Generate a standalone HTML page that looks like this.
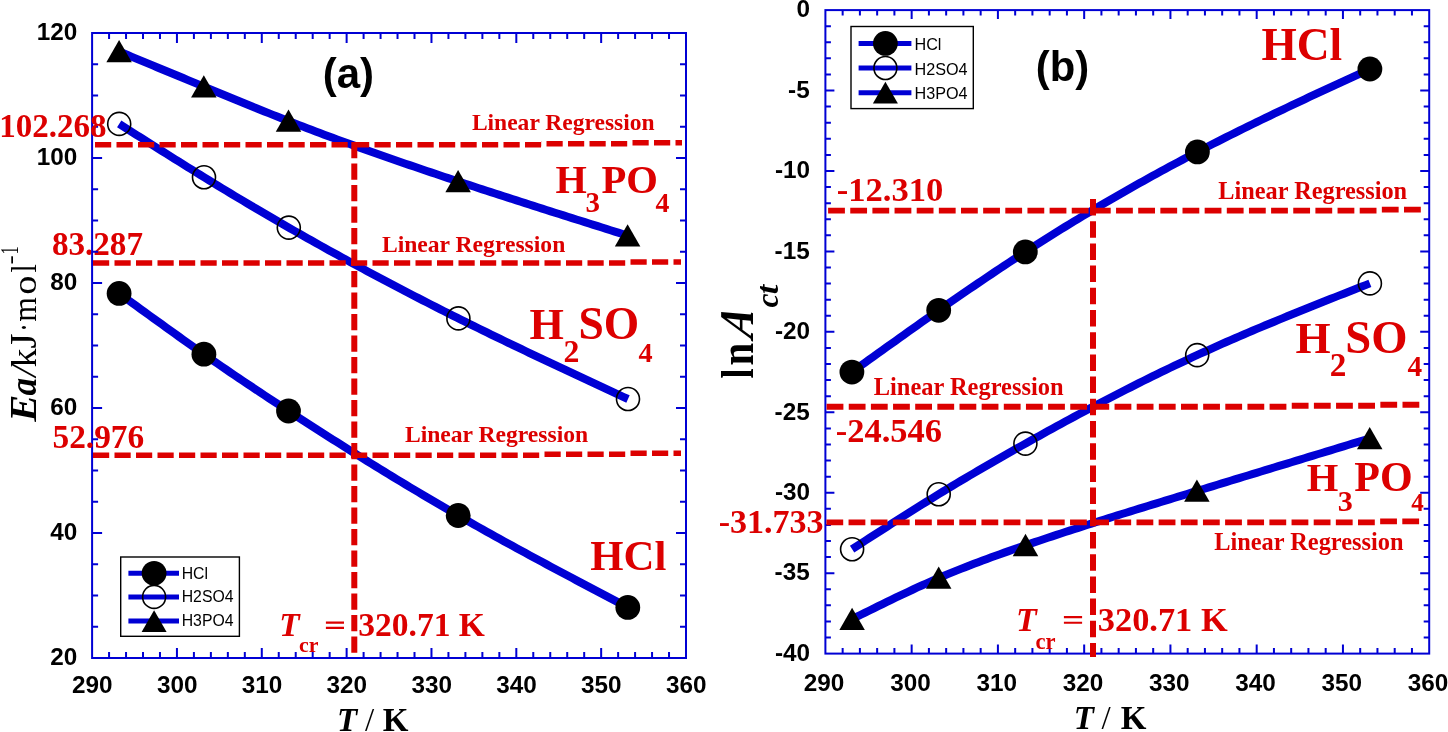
<!DOCTYPE html>
<html><head><meta charset="utf-8"><style>html,body{margin:0;padding:0;background:#fff;overflow:hidden}svg{display:block;will-change:transform}</style></head>
<body>
<svg width="1448" height="732" viewBox="0 0 1448 732">
<rect width="1448" height="732" fill="#fff"/>
<text x="51.9" y="254.6" font-family='"Liberation Serif",serif' font-weight="bold" font-style="normal" font-size="33.13" fill="#dc0000">83.287</text>
<text x="718.65" y="532.9" font-family='"Liberation Serif",serif' font-weight="bold" font-style="normal" font-size="34.06" fill="#dc0000">-31.733</text>
<rect x="92.1" y="33" width="593.9" height="625" fill="none" stroke="#0000d4" stroke-width="2"/>
<path d="M109.07 658v-6M109.07 33v6M126.04 658v-6M126.04 33v6M143.01 658v-6M143.01 33v6M159.97 658v-6M159.97 33v6M176.94 658v-10M176.94 33v10M193.91 658v-6M193.91 33v6M210.88 658v-6M210.88 33v6M227.85 658v-6M227.85 33v6M244.82 658v-6M244.82 33v6M261.79 658v-10M261.79 33v10M278.75 658v-6M278.75 33v6M295.72 658v-6M295.72 33v6M312.69 658v-6M312.69 33v6M329.66 658v-6M329.66 33v6M346.63 658v-10M346.63 33v10M363.6 658v-6M363.6 33v6M380.57 658v-6M380.57 33v6M397.53 658v-6M397.53 33v6M414.5 658v-6M414.5 33v6M431.47 658v-10M431.47 33v10M448.44 658v-6M448.44 33v6M465.41 658v-6M465.41 33v6M482.38 658v-6M482.38 33v6M499.35 658v-6M499.35 33v6M516.31 658v-10M516.31 33v10M533.28 658v-6M533.28 33v6M550.25 658v-6M550.25 33v6M567.22 658v-6M567.22 33v6M584.19 658v-6M584.19 33v6M601.16 658v-10M601.16 33v10M618.13 658v-6M618.13 33v6M635.09 658v-6M635.09 33v6M652.06 658v-6M652.06 33v6M669.03 658v-6M669.03 33v6M92.1 64.25h6M686 64.25h-6M92.1 95.5h6M686 95.5h-6M92.1 126.75h6M686 126.75h-6M92.1 158h10M686 158h-10M92.1 189.25h6M686 189.25h-6M92.1 220.5h6M686 220.5h-6M92.1 251.75h6M686 251.75h-6M92.1 283h10M686 283h-10M92.1 314.25h6M686 314.25h-6M92.1 345.5h6M686 345.5h-6M92.1 376.75h6M686 376.75h-6M92.1 408h10M686 408h-10M92.1 439.25h6M686 439.25h-6M92.1 470.5h6M686 470.5h-6M92.1 501.75h6M686 501.75h-6M92.1 533h10M686 533h-10M92.1 564.25h6M686 564.25h-6M92.1 595.5h6M686 595.5h-6M92.1 626.75h6M686 626.75h-6" stroke="#0000d4" stroke-width="2" fill="none"/>
<text x="71.91" y="693.2" font-family='"Liberation Sans",sans-serif' font-weight="bold" font-style="normal" font-size="24.3" fill="#000">290</text>
<text x="156.89" y="693.2" font-family='"Liberation Sans",sans-serif' font-weight="bold" font-style="normal" font-size="24.3" fill="#000">300</text>
<text x="241.73" y="693.2" font-family='"Liberation Sans",sans-serif' font-weight="bold" font-style="normal" font-size="24.3" fill="#000">310</text>
<text x="326.58" y="693.2" font-family='"Liberation Sans",sans-serif' font-weight="bold" font-style="normal" font-size="24.3" fill="#000">320</text>
<text x="411.42" y="693.2" font-family='"Liberation Sans",sans-serif' font-weight="bold" font-style="normal" font-size="24.3" fill="#000">330</text>
<text x="496.26" y="693.2" font-family='"Liberation Sans",sans-serif' font-weight="bold" font-style="normal" font-size="24.3" fill="#000">340</text>
<text x="581.1" y="693.2" font-family='"Liberation Sans",sans-serif' font-weight="bold" font-style="normal" font-size="24.3" fill="#000">350</text>
<text x="665.95" y="693.2" font-family='"Liberation Sans",sans-serif' font-weight="bold" font-style="normal" font-size="24.3" fill="#000">360</text>
<text x="36.85" y="40.2" font-family='"Liberation Sans",sans-serif' font-weight="bold" font-style="normal" font-size="24.3" fill="#000">120</text>
<text x="36.85" y="165.2" font-family='"Liberation Sans",sans-serif' font-weight="bold" font-style="normal" font-size="24.3" fill="#000">100</text>
<text x="50.37" y="290.2" font-family='"Liberation Sans",sans-serif' font-weight="bold" font-style="normal" font-size="24.3" fill="#000">80</text>
<text x="50.37" y="415.2" font-family='"Liberation Sans",sans-serif' font-weight="bold" font-style="normal" font-size="24.3" fill="#000">60</text>
<text x="50.37" y="540.2" font-family='"Liberation Sans",sans-serif' font-weight="bold" font-style="normal" font-size="24.3" fill="#000">40</text>
<text x="50.37" y="665.2" font-family='"Liberation Sans",sans-serif' font-weight="bold" font-style="normal" font-size="24.3" fill="#000">20</text>
<rect x="825.4" y="10.1" width="603.8" height="643.5" fill="none" stroke="#0000d4" stroke-width="2"/>
<path d="M842.65 653.6v-5.5M842.65 10.1v5.5M859.9 653.6v-5.5M859.9 10.1v5.5M877.15 653.6v-5.5M877.15 10.1v5.5M894.41 653.6v-5.5M894.41 10.1v5.5M911.66 653.6v-9M911.66 10.1v9M928.91 653.6v-5.5M928.91 10.1v5.5M946.16 653.6v-5.5M946.16 10.1v5.5M963.41 653.6v-5.5M963.41 10.1v5.5M980.66 653.6v-5.5M980.66 10.1v5.5M997.91 653.6v-9M997.91 10.1v9M1015.17 653.6v-5.5M1015.17 10.1v5.5M1032.42 653.6v-5.5M1032.42 10.1v5.5M1049.67 653.6v-5.5M1049.67 10.1v5.5M1066.92 653.6v-5.5M1066.92 10.1v5.5M1084.17 653.6v-9M1084.17 10.1v9M1101.42 653.6v-5.5M1101.42 10.1v5.5M1118.67 653.6v-5.5M1118.67 10.1v5.5M1135.93 653.6v-5.5M1135.93 10.1v5.5M1153.18 653.6v-5.5M1153.18 10.1v5.5M1170.43 653.6v-9M1170.43 10.1v9M1187.68 653.6v-5.5M1187.68 10.1v5.5M1204.93 653.6v-5.5M1204.93 10.1v5.5M1222.18 653.6v-5.5M1222.18 10.1v5.5M1239.43 653.6v-5.5M1239.43 10.1v5.5M1256.69 653.6v-9M1256.69 10.1v9M1273.94 653.6v-5.5M1273.94 10.1v5.5M1291.19 653.6v-5.5M1291.19 10.1v5.5M1308.44 653.6v-5.5M1308.44 10.1v5.5M1325.69 653.6v-5.5M1325.69 10.1v5.5M1342.94 653.6v-9M1342.94 10.1v9M1360.19 653.6v-5.5M1360.19 10.1v5.5M1377.45 653.6v-5.5M1377.45 10.1v5.5M1394.7 653.6v-5.5M1394.7 10.1v5.5M1411.95 653.6v-5.5M1411.95 10.1v5.5M825.4 26.19h5.5M1429.2 26.19h-5.5M825.4 42.27h5.5M1429.2 42.27h-5.5M825.4 58.36h5.5M1429.2 58.36h-5.5M825.4 74.45h5.5M1429.2 74.45h-5.5M825.4 90.54h9M1429.2 90.54h-9M825.4 106.62h5.5M1429.2 106.62h-5.5M825.4 122.71h5.5M1429.2 122.71h-5.5M825.4 138.8h5.5M1429.2 138.8h-5.5M825.4 154.89h5.5M1429.2 154.89h-5.5M825.4 170.97h9M1429.2 170.97h-9M825.4 187.06h5.5M1429.2 187.06h-5.5M825.4 203.15h5.5M1429.2 203.15h-5.5M825.4 219.24h5.5M1429.2 219.24h-5.5M825.4 235.32h5.5M1429.2 235.32h-5.5M825.4 251.41h9M1429.2 251.41h-9M825.4 267.5h5.5M1429.2 267.5h-5.5M825.4 283.59h5.5M1429.2 283.59h-5.5M825.4 299.68h5.5M1429.2 299.68h-5.5M825.4 315.76h5.5M1429.2 315.76h-5.5M825.4 331.85h9M1429.2 331.85h-9M825.4 347.94h5.5M1429.2 347.94h-5.5M825.4 364.02h5.5M1429.2 364.02h-5.5M825.4 380.11h5.5M1429.2 380.11h-5.5M825.4 396.2h5.5M1429.2 396.2h-5.5M825.4 412.29h9M1429.2 412.29h-9M825.4 428.38h5.5M1429.2 428.38h-5.5M825.4 444.46h5.5M1429.2 444.46h-5.5M825.4 460.55h5.5M1429.2 460.55h-5.5M825.4 476.64h5.5M1429.2 476.64h-5.5M825.4 492.72h9M1429.2 492.72h-9M825.4 508.81h5.5M1429.2 508.81h-5.5M825.4 524.9h5.5M1429.2 524.9h-5.5M825.4 540.99h5.5M1429.2 540.99h-5.5M825.4 557.07h5.5M1429.2 557.07h-5.5M825.4 573.16h9M1429.2 573.16h-9M825.4 589.25h5.5M1429.2 589.25h-5.5M825.4 605.34h5.5M1429.2 605.34h-5.5M825.4 621.42h5.5M1429.2 621.42h-5.5M825.4 637.51h5.5M1429.2 637.51h-5.5" stroke="#0000d4" stroke-width="2" fill="none"/>
<text x="803.81" y="690.9" font-family='"Liberation Sans",sans-serif' font-weight="bold" font-style="normal" font-size="24.3" fill="#000">290</text>
<text x="890.2" y="690.9" font-family='"Liberation Sans",sans-serif' font-weight="bold" font-style="normal" font-size="24.3" fill="#000">300</text>
<text x="976.46" y="690.9" font-family='"Liberation Sans",sans-serif' font-weight="bold" font-style="normal" font-size="24.3" fill="#000">310</text>
<text x="1062.72" y="690.9" font-family='"Liberation Sans",sans-serif' font-weight="bold" font-style="normal" font-size="24.3" fill="#000">320</text>
<text x="1148.98" y="690.9" font-family='"Liberation Sans",sans-serif' font-weight="bold" font-style="normal" font-size="24.3" fill="#000">330</text>
<text x="1235.23" y="690.9" font-family='"Liberation Sans",sans-serif' font-weight="bold" font-style="normal" font-size="24.3" fill="#000">340</text>
<text x="1321.49" y="690.9" font-family='"Liberation Sans",sans-serif' font-weight="bold" font-style="normal" font-size="24.3" fill="#000">350</text>
<text x="1407.75" y="690.9" font-family='"Liberation Sans",sans-serif' font-weight="bold" font-style="normal" font-size="24.3" fill="#000">360</text>
<text x="796.48" y="17.4" font-family='"Liberation Sans",sans-serif' font-weight="bold" font-style="normal" font-size="24.3" fill="#000">0</text>
<text x="788.07" y="97.84" font-family='"Liberation Sans",sans-serif' font-weight="bold" font-style="normal" font-size="24.3" fill="#000">-5</text>
<text x="774.88" y="178.28" font-family='"Liberation Sans",sans-serif' font-weight="bold" font-style="normal" font-size="24.3" fill="#000">-10</text>
<text x="774.56" y="258.71" font-family='"Liberation Sans",sans-serif' font-weight="bold" font-style="normal" font-size="24.3" fill="#000">-15</text>
<text x="774.88" y="339.15" font-family='"Liberation Sans",sans-serif' font-weight="bold" font-style="normal" font-size="24.3" fill="#000">-20</text>
<text x="774.56" y="419.59" font-family='"Liberation Sans",sans-serif' font-weight="bold" font-style="normal" font-size="24.3" fill="#000">-25</text>
<text x="774.88" y="500.02" font-family='"Liberation Sans",sans-serif' font-weight="bold" font-style="normal" font-size="24.3" fill="#000">-30</text>
<text x="774.56" y="580.46" font-family='"Liberation Sans",sans-serif' font-weight="bold" font-style="normal" font-size="24.3" fill="#000">-35</text>
<text x="774.88" y="660.9" font-family='"Liberation Sans",sans-serif' font-weight="bold" font-style="normal" font-size="24.3" fill="#000">-40</text>
<path d="M119.1 293.4 123.37 296.51 127.65 299.62 131.92 302.72 136.2 305.83 140.47 308.93 144.75 312.03 149.02 315.12 153.3 318.21 157.57 321.3 161.85 324.37 166.12 327.45 170.4 330.51 174.67 333.57 178.95 336.62 183.22 339.65 187.5 342.68 191.77 345.7 196.05 348.71 200.32 351.7 204.6 354.68 208.87 357.65 213.15 360.61 217.42 363.55 221.69 366.49 225.97 369.41 230.24 372.32 234.52 375.21 238.79 378.1 243.07 380.98 247.34 383.84 251.62 386.7 255.89 389.55 260.17 392.39 264.44 395.22 268.72 398.04 272.99 400.85 277.27 403.66 281.54 406.46 285.82 409.25 290.09 412.04 294.37 414.82 298.64 417.59 302.92 420.35 307.19 423.11 311.47 425.87 315.74 428.61 320.02 431.35 324.29 434.08 328.56 436.81 332.84 439.53 337.11 442.24 341.39 444.94 345.66 447.63 349.94 450.32 354.21 453 358.49 455.67 362.76 458.33 367.04 460.99 371.31 463.64 375.59 466.27 379.86 468.91 384.14 471.53 388.41 474.14 392.69 476.75 396.96 479.34 401.24 481.93 405.51 484.51 409.79 487.07 414.06 489.63 418.34 492.18 422.61 494.73 426.88 497.26 431.16 499.78 435.43 502.29 439.71 504.79 443.98 507.28 448.26 509.77 452.53 512.24 456.81 514.7 461.08 517.15 465.36 519.59 469.63 522.03 473.91 524.45 478.18 526.86 482.46 529.26 486.73 531.66 491.01 534.04 495.28 536.42 499.56 538.79 503.83 541.15 508.11 543.5 512.38 545.85 516.66 548.19 520.93 550.52 525.21 552.85 529.48 555.17 533.75 557.48 538.03 559.79 542.3 562.09 546.58 564.39 550.85 566.68 555.13 568.97 559.4 571.26 563.68 573.54 567.95 575.81 572.23 578.08 576.5 580.35 580.78 582.62 585.05 584.88 589.33 587.14 593.6 589.39 597.88 591.65 602.15 593.9 606.43 596.16 610.7 598.41 614.98 600.66 619.25 602.9 623.53 605.15 627.8 607.4" stroke="#0000d4" stroke-width="8" fill="none" stroke-linejoin="round"/>
<path d="M119.2 123.9 123.48 126.62 127.75 129.33 132.03 132.05 136.3 134.76 140.58 137.47 144.85 140.18 149.13 142.89 153.41 145.6 157.68 148.3 161.96 150.99 166.23 153.68 170.51 156.37 174.78 159.05 179.06 161.73 183.33 164.4 187.61 167.06 191.89 169.72 196.16 172.37 200.44 175.01 204.71 177.64 208.99 180.26 213.26 182.87 217.54 185.48 221.82 188.08 226.09 190.66 230.37 193.24 234.64 195.81 238.92 198.37 243.19 200.92 247.47 203.47 251.74 206 256.02 208.53 260.3 211.04 264.57 213.55 268.85 216.05 273.12 218.54 277.4 221.02 281.67 223.5 285.95 225.96 290.23 228.42 294.5 230.86 298.78 233.3 303.05 235.73 307.33 238.15 311.6 240.57 315.88 242.97 320.15 245.37 324.43 247.75 328.71 250.13 332.98 252.5 337.26 254.86 341.53 257.21 345.81 259.56 350.08 261.9 354.36 264.22 358.64 266.54 362.91 268.86 367.19 271.16 371.46 273.45 375.74 275.74 380.01 278.02 384.29 280.29 388.56 282.55 392.84 284.81 397.12 287.06 401.39 289.3 405.67 291.53 409.94 293.75 414.22 295.96 418.49 298.17 422.77 300.37 427.05 302.56 431.32 304.75 435.6 306.92 439.87 309.09 444.15 311.25 448.42 313.41 452.7 315.55 456.97 317.69 461.25 319.82 465.53 321.94 469.8 324.06 474.08 326.17 478.35 328.27 482.63 330.36 486.9 332.45 491.18 334.54 495.46 336.61 499.73 338.68 504.01 340.75 508.28 342.81 512.56 344.86 516.83 346.91 521.11 348.95 525.38 350.99 529.66 353.03 533.94 355.06 538.21 357.08 542.49 359.11 546.76 361.12 551.04 363.14 555.31 365.15 559.59 367.16 563.87 369.16 568.14 371.16 572.42 373.16 576.69 375.16 580.97 377.16 585.24 379.15 589.52 381.14 593.79 383.13 598.07 385.11 602.35 387.1 606.62 389.09 610.9 391.07 615.17 393.05 619.45 395.04 623.72 397.02 628 399" stroke="#0000d4" stroke-width="8" fill="none" stroke-linejoin="round"/>
<path d="M119.1 51.5 123.37 53.27 127.65 55.04 131.92 56.82 136.19 58.59 140.47 60.36 144.74 62.13 149.01 63.9 153.28 65.67 157.56 67.44 161.83 69.21 166.1 70.99 170.38 72.76 174.65 74.53 178.92 76.3 183.2 78.07 187.47 79.84 191.74 81.61 196.02 83.38 200.29 85.15 204.56 86.92 208.84 88.68 213.11 90.45 217.38 92.22 221.65 93.98 225.93 95.75 230.2 97.51 234.47 99.26 238.75 101.01 243.02 102.76 247.29 104.51 251.57 106.25 255.84 107.98 260.11 109.71 264.39 111.43 268.66 113.14 272.93 114.85 277.21 116.55 281.48 118.24 285.75 119.92 290.02 121.6 294.3 123.26 298.57 124.91 302.84 126.56 307.12 128.19 311.39 129.82 315.66 131.44 319.94 133.05 324.21 134.65 328.48 136.24 332.76 137.83 337.03 139.4 341.3 140.97 345.57 142.53 349.85 144.09 354.12 145.63 358.39 147.17 362.67 148.7 366.94 150.23 371.21 151.75 375.49 153.26 379.76 154.76 384.03 156.26 388.31 157.75 392.58 159.24 396.85 160.72 401.13 162.2 405.4 163.67 409.67 165.13 413.94 166.59 418.22 168.04 422.49 169.49 426.76 170.94 431.04 172.38 435.31 173.81 439.58 175.24 443.86 176.67 448.13 178.09 452.4 179.51 456.68 180.93 460.95 182.34 465.22 183.75 469.49 185.15 473.77 186.56 478.04 187.95 482.31 189.35 486.59 190.74 490.86 192.13 495.13 193.52 499.41 194.9 503.68 196.29 507.95 197.66 512.23 199.04 516.5 200.42 520.77 201.79 525.05 203.16 529.32 204.52 533.59 205.89 537.86 207.25 542.14 208.62 546.41 209.98 550.68 211.33 554.96 212.69 559.23 214.05 563.5 215.4 567.78 216.75 572.05 218.1 576.32 219.45 580.6 220.8 584.87 222.15 589.14 223.5 593.42 224.85 597.69 226.19 601.96 227.54 606.23 228.88 610.51 230.23 614.78 231.57 619.05 232.91 623.33 234.26 627.6 235.6" stroke="#0000d4" stroke-width="8" fill="none" stroke-linejoin="round"/>
<path d="M851.9 372.1 856.25 368.97 860.61 365.84 864.96 362.72 869.31 359.59 873.66 356.47 878.02 353.35 882.37 350.23 886.72 347.11 891.08 344 895.43 340.89 899.78 337.79 904.14 334.69 908.49 331.6 912.84 328.51 917.19 325.42 921.55 322.35 925.9 319.28 930.25 316.22 934.61 313.16 938.96 310.12 943.31 307.08 947.66 304.05 952.02 301.04 956.37 298.03 960.72 295.03 965.08 292.04 969.43 289.06 973.78 286.09 978.14 283.14 982.49 280.19 986.84 277.26 991.19 274.34 995.55 271.43 999.9 268.53 1004.25 265.65 1008.61 262.78 1012.96 259.92 1017.31 257.08 1021.66 254.25 1026.02 251.44 1030.37 248.64 1034.72 245.85 1039.08 243.08 1043.43 240.33 1047.78 237.59 1052.14 234.86 1056.49 232.15 1060.84 229.45 1065.19 226.77 1069.55 224.1 1073.9 221.45 1078.25 218.81 1082.61 216.18 1086.96 213.57 1091.31 210.97 1095.66 208.39 1100.02 205.82 1104.37 203.27 1108.72 200.72 1113.08 198.2 1117.43 195.68 1121.78 193.18 1126.14 190.7 1130.49 188.22 1134.84 185.77 1139.19 183.32 1143.55 180.89 1147.9 178.47 1152.25 176.06 1156.61 173.67 1160.96 171.29 1165.31 168.93 1169.66 166.58 1174.02 164.24 1178.37 161.91 1182.72 159.6 1187.08 157.3 1191.43 155.01 1195.78 152.74 1200.14 150.48 1204.49 148.23 1208.84 146 1213.19 143.77 1217.55 141.56 1221.9 139.36 1226.25 137.17 1230.61 134.99 1234.96 132.83 1239.31 130.67 1243.66 128.52 1248.02 126.38 1252.37 124.25 1256.72 122.13 1261.08 120.02 1265.43 117.91 1269.78 115.82 1274.14 113.73 1278.49 111.65 1282.84 109.57 1287.19 107.5 1291.55 105.44 1295.9 103.38 1300.25 101.33 1304.61 99.29 1308.96 97.24 1313.31 95.21 1317.66 93.18 1322.02 91.15 1326.37 89.12 1330.72 87.1 1335.08 85.08 1339.43 83.07 1343.78 81.05 1348.14 79.04 1352.49 77.03 1356.84 75.02 1361.19 73.01 1365.55 71.01 1369.9 69" stroke="#0000d4" stroke-width="8" fill="none" stroke-linejoin="round"/>
<path d="M852.1 549.2 856.45 546.39 860.8 543.57 865.15 540.76 869.51 537.96 873.86 535.15 878.21 532.35 882.56 529.55 886.91 526.76 891.26 523.97 895.61 521.19 899.96 518.42 904.32 515.66 908.67 512.9 913.02 510.16 917.37 507.43 921.72 504.7 926.07 501.99 930.42 499.29 934.77 496.61 939.13 493.94 943.48 491.28 947.83 488.64 952.18 486.02 956.53 483.4 960.88 480.8 965.23 478.22 969.58 475.64 973.94 473.08 978.29 470.53 982.64 468 986.99 465.47 991.34 462.95 995.69 460.45 1000.04 457.95 1004.39 455.47 1008.75 452.99 1013.1 450.53 1017.45 448.07 1021.8 445.62 1026.15 443.18 1030.5 440.75 1034.85 438.32 1039.2 435.9 1043.56 433.49 1047.91 431.09 1052.26 428.7 1056.61 426.32 1060.96 423.94 1065.31 421.58 1069.66 419.22 1074.01 416.88 1078.37 414.54 1082.72 412.21 1087.07 409.89 1091.42 407.59 1095.77 405.29 1100.12 403 1104.47 400.73 1108.82 398.46 1113.18 396.21 1117.53 393.97 1121.88 391.74 1126.23 389.52 1130.58 387.31 1134.93 385.11 1139.28 382.93 1143.63 380.76 1147.99 378.6 1152.34 376.45 1156.69 374.32 1161.04 372.2 1165.39 370.09 1169.74 368 1174.09 365.92 1178.44 363.85 1182.8 361.8 1187.15 359.76 1191.5 357.73 1195.85 355.72 1200.2 353.72 1204.55 351.74 1208.9 349.77 1213.25 347.82 1217.61 345.88 1221.96 343.95 1226.31 342.03 1230.66 340.13 1235.01 338.24 1239.36 336.36 1243.71 334.49 1248.06 332.63 1252.42 330.78 1256.77 328.94 1261.12 327.11 1265.47 325.29 1269.82 323.48 1274.17 321.68 1278.52 319.88 1282.87 318.09 1287.23 316.31 1291.58 314.54 1295.93 312.77 1300.28 311.01 1304.63 309.26 1308.98 307.51 1313.33 305.77 1317.68 304.03 1322.04 302.29 1326.39 300.56 1330.74 298.84 1335.09 297.11 1339.44 295.39 1343.79 293.67 1348.14 291.96 1352.49 290.24 1356.85 288.53 1361.2 286.82 1365.55 285.11 1369.9 283.4" stroke="#0000d4" stroke-width="8" fill="none" stroke-linejoin="round"/>
<path d="M852.1 619.1 856.45 616.94 860.8 614.77 865.15 612.62 869.5 610.46 873.85 608.31 878.2 606.17 882.55 604.04 886.9 601.92 891.25 599.81 895.6 597.71 899.95 595.63 904.29 593.57 908.64 591.52 912.99 589.5 917.34 587.49 921.69 585.51 926.04 583.55 930.39 581.62 934.74 579.71 939.09 577.83 943.44 575.98 947.79 574.17 952.14 572.37 956.49 570.61 960.84 568.87 965.19 567.16 969.54 565.46 973.89 563.8 978.24 562.15 982.59 560.52 986.94 558.91 991.29 557.32 995.64 555.75 999.99 554.19 1004.34 552.64 1008.68 551.11 1013.03 549.59 1017.38 548.09 1021.73 546.59 1026.08 545.1 1030.43 543.62 1034.78 542.15 1039.13 540.69 1043.48 539.23 1047.83 537.78 1052.18 536.34 1056.53 534.9 1060.88 533.47 1065.23 532.05 1069.58 530.63 1073.93 529.22 1078.28 527.82 1082.63 526.42 1086.98 525.03 1091.33 523.64 1095.68 522.26 1100.03 520.88 1104.38 519.51 1108.73 518.14 1113.07 516.77 1117.42 515.41 1121.77 514.05 1126.12 512.7 1130.47 511.35 1134.82 510 1139.17 508.66 1143.52 507.32 1147.87 505.98 1152.22 504.64 1156.57 503.31 1160.92 501.97 1165.27 500.64 1169.62 499.32 1173.97 497.99 1178.32 496.66 1182.67 495.33 1187.02 494.01 1191.37 492.68 1195.72 491.36 1200.07 490.04 1204.42 488.71 1208.77 487.39 1213.12 486.06 1217.46 484.74 1221.81 483.41 1226.16 482.09 1230.51 480.77 1234.86 479.44 1239.21 478.12 1243.56 476.79 1247.91 475.47 1252.26 474.15 1256.61 472.82 1260.96 471.5 1265.31 470.17 1269.66 468.85 1274.01 467.53 1278.36 466.2 1282.71 464.88 1287.06 463.55 1291.41 462.23 1295.76 460.91 1300.11 459.58 1304.46 458.26 1308.81 456.93 1313.16 455.61 1317.51 454.29 1321.85 452.96 1326.2 451.64 1330.55 450.31 1334.9 448.99 1339.25 447.67 1343.6 446.34 1347.95 445.02 1352.3 443.7 1356.65 442.37 1361 441.05 1365.35 439.72 1369.7 438.4" stroke="#0000d4" stroke-width="8" fill="none" stroke-linejoin="round"/>
<path d="M95 144.8H541" stroke="#dc0000" stroke-width="5.5" stroke-dasharray="16.2 5.3" stroke-dashoffset="0.00" fill="none"/>
<path d="M541 143.8H629" stroke="#dc0000" stroke-width="5.5" stroke-dasharray="16.2 5.3" stroke-dashoffset="16.00" fill="none"/>
<path d="M629 142.8H682" stroke="#dc0000" stroke-width="5.5" stroke-dasharray="16.2 5.3" stroke-dashoffset="18.00" fill="none"/>
<path d="M93 262.9H627" stroke="#dc0000" stroke-width="5.5" stroke-dasharray="16.2 5.3" stroke-dashoffset="0.00" fill="none"/>
<path d="M627 261.9H681" stroke="#dc0000" stroke-width="5.5" stroke-dasharray="16.2 5.3" stroke-dashoffset="18.00" fill="none"/>
<path d="M93 455.3H541" stroke="#dc0000" stroke-width="5.5" stroke-dasharray="16.2 5.3" stroke-dashoffset="0.00" fill="none"/>
<path d="M541 454.3H627" stroke="#dc0000" stroke-width="5.5" stroke-dasharray="16.2 5.3" stroke-dashoffset="18.00" fill="none"/>
<path d="M627 453.3H681" stroke="#dc0000" stroke-width="5.5" stroke-dasharray="16.2 5.3" stroke-dashoffset="18.00" fill="none"/>
<path d="M354.3 142L354.3 652.7" stroke="#dc0000" stroke-width="6" stroke-dasharray="16.2 5.3" fill="none"/>
<path d="M828.1 210.7H1377.6" stroke="#dc0000" stroke-width="5.8" stroke-dasharray="16.8 5.35" stroke-dashoffset="0.00" fill="none"/>
<path d="M1377.6 209.7H1421.5" stroke="#dc0000" stroke-width="5.8" stroke-dasharray="16.8 5.35" stroke-dashoffset="17.90" fill="none"/>
<path d="M826.6 406.7H1288" stroke="#dc0000" stroke-width="6.0" stroke-dasharray="16.8 5.35" stroke-dashoffset="0.00" fill="none"/>
<path d="M1288 405.7H1377.6" stroke="#dc0000" stroke-width="6.0" stroke-dasharray="16.8 5.35" stroke-dashoffset="18.40" fill="none"/>
<path d="M1377.6 404.7H1419.7" stroke="#dc0000" stroke-width="6.0" stroke-dasharray="16.8 5.35" stroke-dashoffset="19.40" fill="none"/>
<path d="M826.4 522.3H1377.6" stroke="#dc0000" stroke-width="5.8" stroke-dasharray="16.8 5.35" stroke-dashoffset="0.00" fill="none"/>
<path d="M1377.6 521.3H1420" stroke="#dc0000" stroke-width="5.8" stroke-dasharray="16.8 5.35" stroke-dashoffset="19.60" fill="none"/>
<path d="M1093 199L1093 657.1" stroke="#dc0000" stroke-width="6" stroke-dasharray="16.5 5.7" fill="none"/>
<text x="-0.74" y="136.9" font-family='"Liberation Serif",serif' font-weight="bold" font-style="normal" font-size="33" fill="#dc0000">102.268</text>
<text x="52.46" y="447.6" font-family='"Liberation Serif",serif' font-weight="bold" font-style="normal" font-size="33.39" fill="#dc0000">52.976</text>
<circle cx="119.1" cy="293.4" r="12.4" fill="#000"/>
<circle cx="203.9" cy="354.2" r="12.4" fill="#000"/>
<circle cx="288.5" cy="411" r="12.4" fill="#000"/>
<circle cx="458.2" cy="515.5" r="12.4" fill="#000"/>
<circle cx="627.8" cy="607.4" r="12.4" fill="#000"/>
<circle cx="851.9" cy="372.1" r="12.4" fill="#000"/>
<circle cx="938.7" cy="310.3" r="12.4" fill="#000"/>
<circle cx="1025.3" cy="251.9" r="12.4" fill="#000"/>
<circle cx="1197.4" cy="151.9" r="12.4" fill="#000"/>
<circle cx="1369.9" cy="69" r="12.4" fill="#000"/>
<circle cx="119.2" cy="123.9" r="11.5" fill="none" stroke="#000" stroke-width="1.6"/>
<circle cx="204" cy="177.2" r="11.5" fill="none" stroke="#000" stroke-width="1.6"/>
<circle cx="288.8" cy="227.6" r="11.5" fill="none" stroke="#000" stroke-width="1.6"/>
<circle cx="458.4" cy="318.4" r="11.5" fill="none" stroke="#000" stroke-width="1.6"/>
<circle cx="628" cy="399" r="11.5" fill="none" stroke="#000" stroke-width="1.6"/>
<circle cx="852.1" cy="549.2" r="11.5" fill="none" stroke="#000" stroke-width="1.6"/>
<circle cx="938.7" cy="494.2" r="11.5" fill="none" stroke="#000" stroke-width="1.6"/>
<circle cx="1025.4" cy="443.6" r="11.5" fill="none" stroke="#000" stroke-width="1.6"/>
<circle cx="1197.2" cy="355.1" r="11.5" fill="none" stroke="#000" stroke-width="1.6"/>
<circle cx="1369.9" cy="283.4" r="11.5" fill="none" stroke="#000" stroke-width="1.6"/>
<path d="M119.1 40.05L131.85 62.35L106.35 62.35Z" fill="#000"/>
<path d="M203.8 75.15L216.55 97.45L191.05 97.45Z" fill="#000"/>
<path d="M288.5 109.55L301.25 131.85L275.75 131.85Z" fill="#000"/>
<path d="M458.1 169.95L470.85 192.25L445.35 192.25Z" fill="#000"/>
<path d="M627.6 224.15L640.35 246.45L614.85 246.45Z" fill="#000"/>
<path d="M852.1 607.65L864.85 629.95L839.35 629.95Z" fill="#000"/>
<path d="M938.7 566.55L951.45 588.85L925.95 588.85Z" fill="#000"/>
<path d="M1025.5 533.85L1038.25 556.15L1012.75 556.15Z" fill="#000"/>
<path d="M1196.9 479.55L1209.65 501.85L1184.15 501.85Z" fill="#000"/>
<path d="M1369.7 426.95L1382.45 449.25L1356.95 449.25Z" fill="#000"/>
<text x="471.9" y="129.7" font-family='"Liberation Serif",serif' font-weight="bold" font-style="normal" font-size="23.52" fill="#dc0000">Linear Regression</text>
<text x="381.9" y="251.8" font-family='"Liberation Serif",serif' font-weight="bold" font-style="normal" font-size="23.61" fill="#dc0000">Linear Regression</text>
<text x="404.9" y="441.8" font-family='"Liberation Serif",serif' font-weight="bold" font-style="normal" font-size="23.6" fill="#dc0000">Linear Regression</text>
<text x="555.41" y="192.7" font-family='"Liberation Serif",serif' font-weight="bold" font-style="normal" font-size="40.31" fill="#dc0000">H</text>
<text x="585.51" y="211.92" font-family='"Liberation Serif",serif' font-weight="bold" font-style="normal" font-size="28.96" fill="#dc0000">3</text>
<text x="601.5" y="192.7" font-family='"Liberation Serif",serif' font-weight="bold" font-style="normal" font-size="40.67" fill="#dc0000">PO</text>
<text x="655.62" y="212" font-family='"Liberation Serif",serif' font-weight="bold" font-style="normal" font-size="27.79" fill="#dc0000">4</text>
<text x="529.44" y="338.9" font-family='"Liberation Serif",serif' font-weight="bold" font-style="normal" font-size="44.21" fill="#dc0000">H</text>
<text x="563.46" y="361.9" font-family='"Liberation Serif",serif' font-weight="bold" font-style="normal" font-size="31.8" fill="#dc0000">2</text>
<text x="578.38" y="338.9" font-family='"Liberation Serif",serif' font-weight="bold" font-style="normal" font-size="45.54" fill="#dc0000">SO</text>
<text x="638.41" y="361.9" font-family='"Liberation Serif",serif' font-weight="bold" font-style="normal" font-size="28.22" fill="#dc0000">4</text>
<text x="590.37" y="570" font-family='"Liberation Serif",serif' font-weight="bold" font-style="normal" font-size="42.78" fill="#dc0000">HCl</text>
<text x="279.18" y="635.8" font-family='"Liberation Serif",serif' font-weight="bold" font-style="italic" font-size="33.3" fill="#dc0000">T</text>
<text x="299.05" y="652.2" font-family='"Liberation Serif",serif' font-weight="bold" font-style="normal" font-size="21.87" fill="#dc0000">cr</text>
<path d="M325.9 622.6H344M325.9 627.9H344" stroke="#dc0000" stroke-width="2.3"/>
<text x="358.24" y="636.4" font-family='"Liberation Serif",serif' font-weight="bold" font-style="normal" font-size="33.52" fill="#dc0000">320.71 K</text>
<text x="836.73" y="201.1" font-family='"Liberation Serif",serif' font-weight="bold" font-style="normal" font-size="34.6" fill="#dc0000">-12.310</text>
<text x="835.84" y="441.6" font-family='"Liberation Serif",serif' font-weight="bold" font-style="normal" font-size="34.44" fill="#dc0000">-24.546</text>
<text x="1218.28" y="199.2" font-family='"Liberation Serif",serif' font-weight="bold" font-style="normal" font-size="24.32" fill="#dc0000">Linear Regression</text>
<text x="873.78" y="394.7" font-family='"Liberation Serif",serif' font-weight="bold" font-style="normal" font-size="24.43" fill="#dc0000">Linear Regression</text>
<text x="1214.18" y="549.5" font-family='"Liberation Serif",serif' font-weight="bold" font-style="normal" font-size="24.39" fill="#dc0000">Linear Regression</text>
<text x="1261.42" y="59.9" font-family='"Liberation Serif",serif' font-weight="bold" font-style="normal" font-size="45.4" fill="#dc0000">HCl</text>
<text x="1295.43" y="352.5" font-family='"Liberation Serif",serif' font-weight="bold" font-style="normal" font-size="45.15" fill="#dc0000">H</text>
<text x="1329.7" y="375.8" font-family='"Liberation Serif",serif' font-weight="bold" font-style="normal" font-size="33.25" fill="#dc0000">2</text>
<text x="1345.22" y="352.5" font-family='"Liberation Serif",serif' font-weight="bold" font-style="normal" font-size="46.67" fill="#dc0000">SO</text>
<text x="1407.4" y="375.8" font-family='"Liberation Serif",serif' font-weight="bold" font-style="normal" font-size="29.29" fill="#dc0000">4</text>
<text x="1306.71" y="490.6" font-family='"Liberation Serif",serif' font-weight="bold" font-style="normal" font-size="40.58" fill="#dc0000">H</text>
<text x="1337.67" y="511.31" font-family='"Liberation Serif",serif' font-weight="bold" font-style="normal" font-size="30.12" fill="#dc0000">3</text>
<text x="1354.28" y="490.6" font-family='"Liberation Serif",serif' font-weight="bold" font-style="normal" font-size="42.03" fill="#dc0000">PO</text>
<text x="1411.16" y="510.7" font-family='"Liberation Serif",serif' font-weight="bold" font-style="normal" font-size="25.01" fill="#dc0000">4</text>
<text x="1016.03" y="630.8" font-family='"Liberation Serif",serif' font-weight="bold" font-style="italic" font-size="33.9" fill="#dc0000">T</text>
<text x="1035.53" y="648.6" font-family='"Liberation Serif",serif' font-weight="bold" font-style="normal" font-size="22.6" fill="#dc0000">cr</text>
<path d="M1063.9 617.1H1082.1M1063.9 622.7H1082.1" stroke="#dc0000" stroke-width="2.1"/>
<text x="1097.81" y="630.6" font-family='"Liberation Serif",serif' font-weight="bold" font-style="normal" font-size="34.37" fill="#dc0000">320.71 K</text>
<rect x="120.7" y="557" width="118.7" height="79.3" fill="#fff" stroke="#000" stroke-width="1.4"/>
<path d="M128.4 573.3H179" stroke="#0000d4" stroke-width="5"/>
<path d="M128.4 596.9H179" stroke="#0000d4" stroke-width="5"/>
<path d="M128.4 621.1H179" stroke="#0000d4" stroke-width="5"/>
<circle cx="154.1" cy="573.3" r="12.4" fill="#000"/>
<circle cx="154.1" cy="596.9" r="11.5" fill="none" stroke="#000" stroke-width="1.6"/>
<path d="M154.1 610.25L166.6 631.95L141.6 631.95Z" fill="#000"/>
<text x="181.7" y="578.6" font-family='"Liberation Sans",sans-serif' font-weight="normal" font-style="normal" font-size="15.8" fill="#000">HCl</text>
<text x="181.7" y="602.2" font-family='"Liberation Sans",sans-serif' font-weight="normal" font-style="normal" font-size="15.8" fill="#000">H2SO4</text>
<text x="181.7" y="626.4" font-family='"Liberation Sans",sans-serif' font-weight="normal" font-style="normal" font-size="15.8" fill="#000">H3PO4</text>
<rect x="851" y="26.5" width="122.3" height="82.1" fill="#fff" stroke="#000" stroke-width="1.4"/>
<path d="M858.6 43.4H911.4" stroke="#0000d4" stroke-width="5"/>
<path d="M858.6 68H911.4" stroke="#0000d4" stroke-width="5"/>
<path d="M858.6 92.7H911.4" stroke="#0000d4" stroke-width="5"/>
<circle cx="885.4" cy="43.4" r="12.4" fill="#000"/>
<circle cx="885.4" cy="68" r="11.5" fill="none" stroke="#000" stroke-width="1.6"/>
<path d="M885.4 81.85L897.9 103.55L872.9 103.55Z" fill="#000"/>
<text x="914.47" y="49.9" font-family='"Liberation Sans",sans-serif' font-weight="normal" font-style="normal" font-size="16.2" fill="#000">HCl</text>
<text x="914.47" y="74.5" font-family='"Liberation Sans",sans-serif' font-weight="normal" font-style="normal" font-size="16.2" fill="#000">H2SO4</text>
<text x="914.47" y="99.2" font-family='"Liberation Sans",sans-serif' font-weight="normal" font-style="normal" font-size="16.2" fill="#000">H3PO4</text>
<text x="322.71" y="87.7" font-family='"Liberation Sans",sans-serif' font-weight="bold" font-style="normal" font-size="42" fill="#000">(a)</text>
<text x="1035.72" y="81" font-family='"Liberation Sans",sans-serif' font-weight="bold" font-style="normal" font-size="41.8" fill="#000">(b)</text>
<text x="337.1" y="730.8" font-family='"Liberation Serif",serif' font-weight="bold" font-style="italic" font-size="33" fill="#000">T</text>
<text x="365" y="730.8" font-family='"Liberation Serif",serif' font-weight="normal" font-style="normal" font-size="33" fill="#000">/</text>
<text x="382.84" y="730.8" font-family='"Liberation Serif",serif' font-weight="bold" font-style="normal" font-size="33" fill="#000">K</text>
<text x="1073.8" y="728.8" font-family='"Liberation Serif",serif' font-weight="bold" font-style="italic" font-size="33" fill="#000">T</text>
<text x="1101.5" y="728.8" font-family='"Liberation Serif",serif' font-weight="normal" font-style="normal" font-size="33" fill="#000">/</text>
<text x="1120.74" y="728.8" font-family='"Liberation Serif",serif' font-weight="bold" font-style="normal" font-size="33" fill="#000">K</text>
<g transform="translate(36 430) rotate(-90)">
<text transform="translate(7.9 0) scale(1.076 1)" x="0.28" y="0" font-family='"Liberation Serif",serif' font-weight="bold" font-style="italic" font-size="37.7" fill="#000">E</text>
<text transform="translate(35 0) scale(0.937 1)" x="-0.44" y="0" font-family='"Liberation Serif",serif' font-weight="bold" font-style="italic" font-size="37.7" fill="#000">a</text>
<text transform="translate(51.4 0) scale(1.048 1)" x="1.73" y="0" font-family='"Liberation Serif",serif' font-weight="normal" font-style="italic" font-size="37.7" fill="#000">/</text>
<text transform="translate(63.5 0) scale(1.051 1)" x="-0.68" y="0" font-family='"Liberation Serif",serif' font-weight="normal" font-style="normal" font-size="35.6" fill="#000">k</text>
<text transform="translate(82.2 0) scale(1.051 1)" x="-0.78" y="0" font-family='"Liberation Serif",serif' font-weight="normal" font-style="normal" font-size="37" fill="#000">J</text>
<text transform="translate(101 0) scale(0.705 1)" x="-3.87" y="0" font-family='"Liberation Serif",serif' font-weight="normal" font-style="normal" font-size="36" fill="#000">·</text>
<text transform="translate(108.8 0) scale(0.918 1)" x="-0.72" y="0" font-family='"Liberation Serif",serif' font-weight="normal" font-style="normal" font-size="34.4" fill="#000">m</text>
<text transform="translate(136.8 0) scale(1.111 1)" x="-1.31" y="0" font-family='"Liberation Serif",serif' font-weight="normal" font-style="normal" font-size="34.4" fill="#000">o</text>
<text transform="translate(158.2 0) scale(0.818 1)" x="-0.73" y="0" font-family='"Liberation Serif",serif' font-weight="normal" font-style="normal" font-size="36.5" fill="#000">l</text>
<text transform="translate(166.6 -18.5) scale(1.155 1)" x="-0.89" y="0" font-family='"Liberation Serif",serif' font-weight="normal" font-style="normal" font-size="24" fill="#000">-</text>
<text transform="translate(177 -18.5) scale(0.684 1)" x="-2.15" y="0" font-family='"Liberation Serif",serif' font-weight="normal" font-style="normal" font-size="24.5" fill="#000">1</text>
</g>
<g transform="translate(752.7 380) rotate(-90)">
<text transform="translate(2.3 0) scale(0.784 1)" x="-0.9" y="0" font-family='"Liberation Serif",serif' font-weight="bold" font-style="normal" font-size="46" fill="#000">l</text>
<text transform="translate(15.6 0) scale(0.847 1)" x="-1.29" y="0" font-family='"Liberation Serif",serif' font-weight="bold" font-style="normal" font-size="48" fill="#000">n</text>
<text transform="translate(38.2 0) scale(0.877 1) skewX(-16.70)" x="2.5" y="0" font-family='"Liberation Serif",serif' font-weight="bold" font-style="italic" font-size="48.3" fill="#000">A</text>
<text transform="translate(73 24.9) scale(1.006 1)" x="-0.46" y="0" font-family='"Liberation Serif",serif' font-weight="bold" font-style="italic" font-size="31.4" fill="#000">c</text>
<text transform="translate(86.7 24.9) scale(1.050 1)" x="-0.98" y="0" font-family='"Liberation Serif",serif' font-weight="bold" font-style="italic" font-size="32.5" fill="#000">t</text>
</g>
</svg>
</body></html>
